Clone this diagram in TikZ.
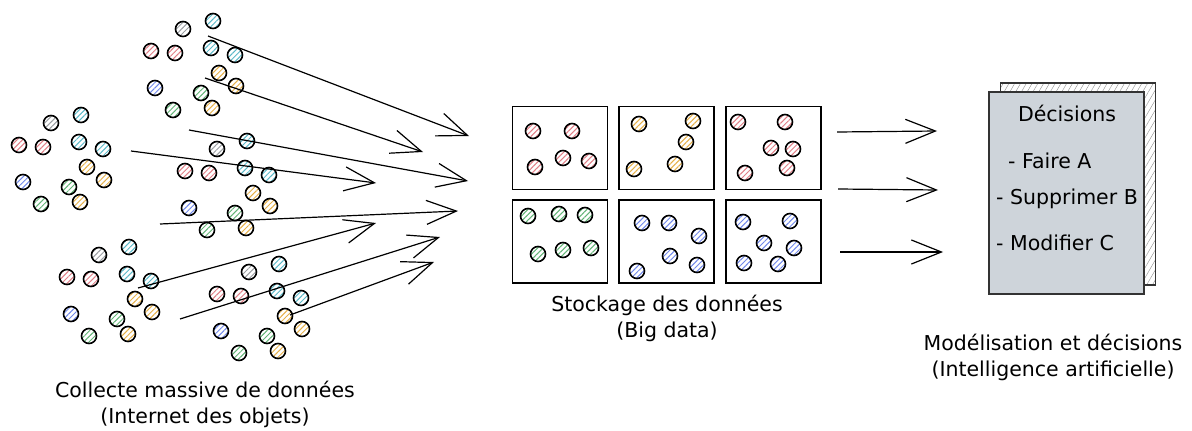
\documentclass[tikz,border=0pt]{standalone}
\usepackage{fontspec}
\setmainfont{DejaVu Sans}
\usetikzlibrary{arrows.meta,patterns.meta,positioning}
\definecolor{dgray}{HTML}{9A9EA2}
\definecolor{dcyan}{HTML}{5AB8C8}
\definecolor{dred}{HTML}{E07E86}
\definecolor{dyel}{HTML}{E6B048}
\definecolor{dblue}{HTML}{7088EA}
\definecolor{dgreen}{HTML}{62B476}
\definecolor{sheetgray}{HTML}{CED4DA}
\tikzset{dot/.style={circle, draw, line width=1.6pt, minimum size=15pt, inner sep=0pt,
    pattern={Lines[angle=45,distance=3.8pt,line width=1pt]}},
  bin/.style={draw, line width=1.6pt, minimum width=95pt, minimum height=83pt, inner sep=0pt},
  sheet/.style={draw=black!80, line width=1.2pt, minimum width=155pt, minimum height=202pt, inner sep=0pt},
  flow/.style={line width=1.2pt, -{Straight Barb[length=30pt,width=24pt]}},
  txt/.style={font=\fontsize{20.5}{26}\selectfont, inner sep=0pt},
  lbl/.style={txt, align=center}}

% one swarm of twelve sensors, placed from its gray dot
\newcommand\dotcluster[3]{%
  \foreach \dx/\dy/\col [count=\k] in {0/0/dgray,30/-8/dcyan,-32/22/dred,-8/24/dred,
      28/19/dcyan,52/26/dcyan,36/44/dyel,53/57/dyel,-28/59/dblue,18/64/dgreen,-10/81/dgreen,29/79/dyel}
    \node[dot, pattern color=\col] (#1-\k) at (#2+\dx,#3+\dy) {};}

\begin{document}
\begin{tikzpicture}[x=1pt, y=-1pt]
  \useasboundingbox (0,0) rectangle (1192,431);
  % sensors
  \dotcluster{ca}{183}{29}
  \dotcluster{cb}{51}{123}
  \dotcluster{cc}{217}{149}
  \dotcluster{cd}{99}{255}
  \dotcluster{ce}{249}{272}
  % flows towards the storage
  \coordinate (f1s) at (208,36);  \coordinate (f1e) at (469,136);
  \coordinate (f2s) at (205,78);  \coordinate (f2e) at (423,152);
  \coordinate (f3s) at (189,130); \coordinate (f3e) at (468,181);
  \coordinate (f4s) at (131,151); \coordinate (f4e) at (376,183);
  \coordinate (f5s) at (160,224); \coordinate (f5e) at (458,211);
  \coordinate (f6s) at (138,288); \coordinate (f6e) at (376,223);
  \coordinate (f7s) at (180,319); \coordinate (f7e) at (440,237);
  \coordinate (f8s) at (290,315); \coordinate (f8e) at (434,262);
  \foreach \i in {1,...,8}
    \draw[flow] (f\i s) -- (f\i e);
  % storage bins
  \node[bin] (b1) at (560,148) {};
  \node[bin, right=10pt of b1] (b2) {};
  \node[bin, right=10pt of b2] (b3) {};
  \node[bin, below=9pt of b1] (b4) {};
  \node[bin, right=10pt of b4] (b5) {};
  \node[bin, right=10pt of b5] (b6) {};
  \foreach \px/\py [count=\k] in {533/131,572/131,535/167,563/158,589/161}
    \node[dot, pattern color=dred] (s1-\k) at (\px,\py) {};
  \foreach \px/\py [count=\k] in {639/124,693/121,686/142,634/169,675/164}
    \node[dot, pattern color=dyel] (s2-\k) at (\px,\py) {};
  \foreach \px/\py [count=\k] in {738/122,785/122,771/148,793/149,745/173,787/168}
    \node[dot, pattern color=dred] (s3-\k) at (\px,\py) {};
  \foreach \px/\py [count=\k] in {528/216,559/214,585/215,538/254,563/250,591/248}
    \node[dot, pattern color=dgreen] (s4-\k) at (\px,\py) {};
  \foreach \px/\py [count=\k] in {642/223,669/223,699/236,637/271,670/256,697/265}
    \node[dot, pattern color=dblue] (s5-\k) at (\px,\py) {};
  \foreach \px/\py [count=\k] in {743/222,790/221,764/243,794/248,744/263,778/264}
    \node[dot, pattern color=dblue] (s6-\k) at (\px,\py) {};
  \node[lbl] (store) at (667,318) {Stockage des données\\(Big data)};
  % flows towards the decisions
  \coordinate (g1s) at (837,132); \coordinate (g1e) at (937,131);
  \coordinate (g2s) at (838,189); \coordinate (g2e) at (938,190);
  \coordinate (g3s) at (840,252); \coordinate (g3e) at (943,252);
  \foreach \i in {1,2,3}
    \draw[flow] (g\i s) -- (g\i e);
  % decision sheets
  \node[sheet, fill=white, pattern={Lines[angle=60,distance=5pt,line width=0.4pt]},
    pattern color=black!45] (back) at (1078,184) {};
  \node[sheet, fill=sheetgray] (doc) at (1066.5,193) {};
  \node[txt] (dec) at (1067,113) {Décisions};
  \node[txt, anchor=west] (da) at (1008,161) {- Faire A};
  \node[txt, anchor=west] (db) at (996,199) {- Supprimer B};
  \node[txt, anchor=west] (dc) at (996,243) {- Modifier C};
  \node[lbl] (ia) at (1053,357) {Modélisation et décisions\\(Intelligence artificielle)};
  \node[lbl] (iot) at (205,404) {Collecte massive de données\\(Internet des objets)};
\end{tikzpicture}
\end{document}
